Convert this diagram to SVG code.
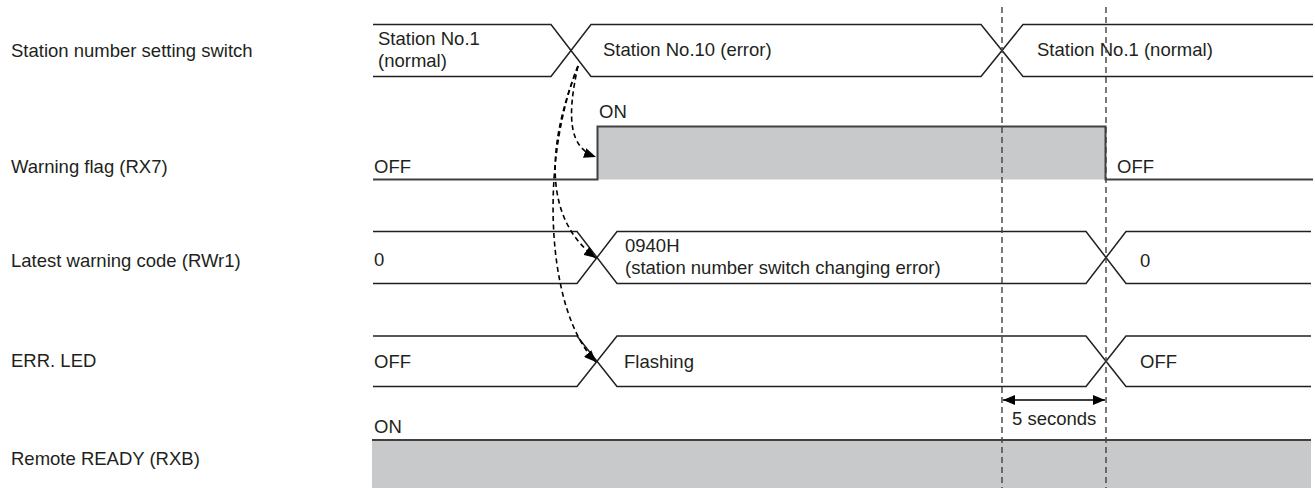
<svg xmlns="http://www.w3.org/2000/svg" width="1315" height="488" viewBox="0 0 1315 488">
<defs>
<style>
text{font-family:"Liberation Sans",Arial,sans-serif;font-size:18.5px;fill:#231f20}
.w{fill:none;stroke:#231f20;stroke-width:1.5}
.g{fill:#c8c9cb;stroke:none}
.gl{fill:none;stroke:#404040;stroke-width:2}
.vd{fill:none;stroke:#404040;stroke-width:1.4;stroke-dasharray:6 4}
.cd{fill:none;stroke:#000;stroke-width:1.6;stroke-dasharray:5 3.5}
</style>
<marker id="ah" viewBox="0 0 12 10" refX="12" refY="5" markerWidth="12" markerHeight="10" markerUnits="userSpaceOnUse" orient="auto">
<path d="M0,0 L12,5 L0,10 z" fill="#000"/>
</marker>
<marker id="ah2" viewBox="0 0 12 10" refX="12" refY="5" markerWidth="12" markerHeight="10" markerUnits="userSpaceOnUse" orient="auto-start-reverse">
<path d="M0,0 L12,5 L0,10 z" fill="#000"/>
</marker>
</defs>
<rect width="1315" height="488" fill="#fff"/>

<g id="labels">
<text x="11" y="57">Station number setting switch</text>
<text x="11" y="173">Warning flag (RX7)</text>
<text x="11" y="267">Latest warning code (RWr1)</text>
<text x="11" y="367">ERR. LED</text>
<text x="11" y="465">Remote READY (RXB)</text>
</g>

<g id="station-switch">
<path class="w" d="M373,24.5 H551 L591,76.5 H981 L1023,24.5 H1313"/>
<path class="w" d="M373,76.5 H551 L591,24.5 H981 L1023,76.5 H1313"/>
<text x="378" y="45">Station No.1</text>
<text x="378" y="67">(normal)</text>
<text x="603" y="56">Station No.10 (error)</text>
<text x="1037" y="56">Station No.1 (normal)</text>
</g>

<g id="warning-flag">
<rect class="g" x="597.5" y="126.5" width="508" height="53"/>
<path class="gl" d="M373,179.5 H597.5 V126.5 H1105.5 V179.5 H1313"/>
<text x="599" y="118">ON</text>
<text x="374" y="173">OFF</text>
<text x="1117" y="173">OFF</text>
</g>

<g id="warning-code">
<path class="w" d="M373,231.5 H577 L617,283.5 H1086 L1126,231.5 H1311"/>
<path class="w" d="M373,283.5 H577 L617,231.5 H1086 L1126,283.5 H1311"/>
<text x="374" y="266">0</text>
<text x="625" y="252">0940H</text>
<text x="625" y="274">(station number switch changing error)</text>
<text x="1140" y="267">0</text>
</g>

<g id="err-led">
<path class="w" d="M373,336 H577 L617,386.5 H1086 L1126,336 H1311"/>
<path class="w" d="M373,386.5 H577 L617,336 H1086 L1126,386.5 H1311"/>
<text x="374" y="368">OFF</text>
<text x="624" y="368">Flashing</text>
<text x="1140" y="368">OFF</text>
</g>

<g id="remote-ready">
<rect class="g" x="372" y="440" width="939" height="48"/>
<line class="gl" x1="372" y1="440" x2="1311" y2="440"/>
<text x="374" y="433">ON</text>
</g>

<g id="time-markers">
<line class="vd" x1="1002" y1="7" x2="1002" y2="488"/>
<line class="vd" x1="1106" y1="7" x2="1106" y2="488"/>
<text x="1012" y="425">5 seconds</text>
</g>

<g id="connectors">
<path class="cd" d="M578,66 C566,120 570,148 596,157" marker-end="url(#ah)"/>
<path class="cd" d="M578,66 C545,150 545,220 596,258" marker-end="url(#ah)"/>
<path class="cd" d="M578,66 C540,160 545,310 596,362" marker-end="url(#ah)"/>
<line x1="1003" y1="400" x2="1105" y2="400" stroke="#000" stroke-width="1.5" marker-start="url(#ah2)" marker-end="url(#ah)"/>
</g>
</svg>
